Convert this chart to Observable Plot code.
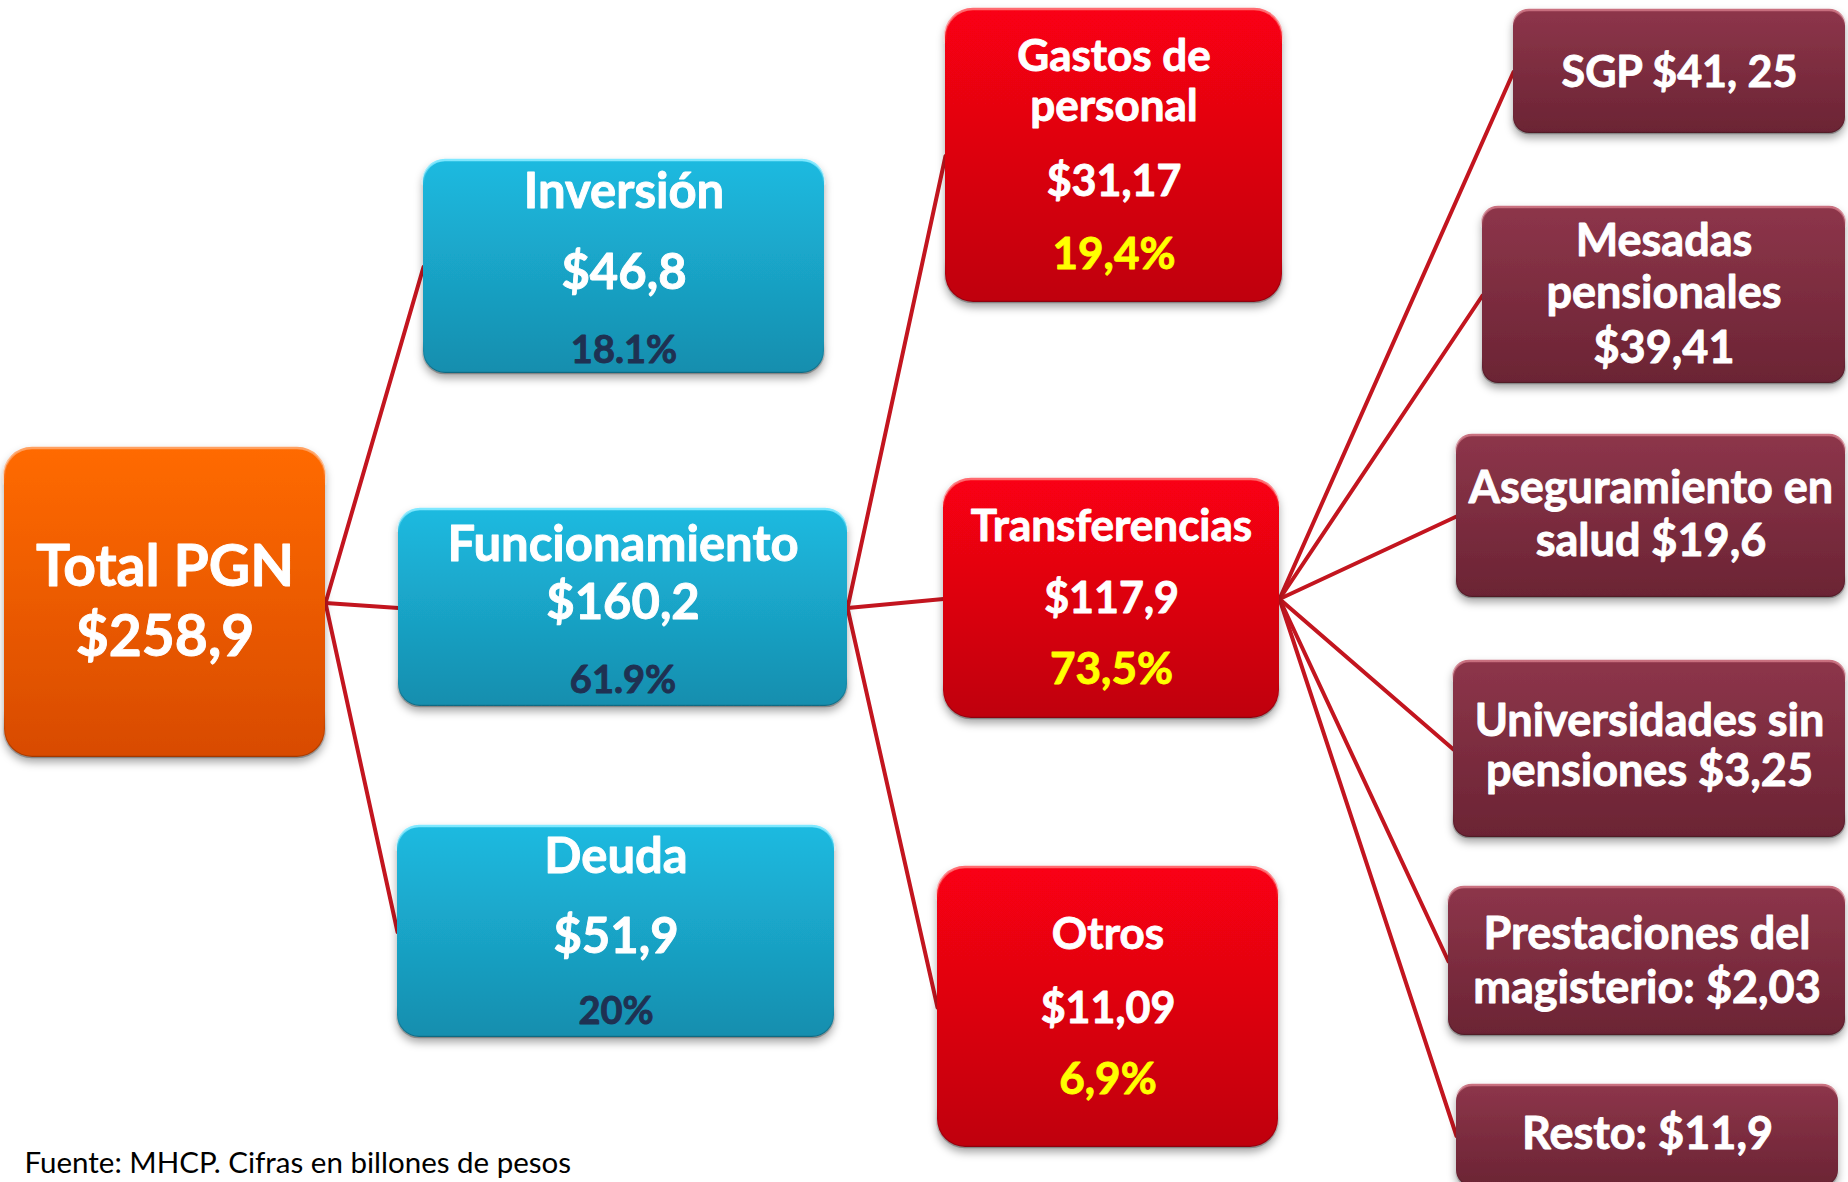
<!DOCTYPE html>
<html>
<head>
<meta charset="utf-8">
<script src="https://cdn.jsdelivr.net/npm/d3@7"></script>
<script src="https://cdn.jsdelivr.net/npm/@observablehq/plot@0.6"></script>
<style>
  html, body { margin: 0; padding: 0; background: #ffffff; }
  #chart svg { display: block; }
</style>
</head>
<body>
<div id="chart"></div>
<script>
// ---------------- DATA ----------------
const nodeNames = [
  "Total PGN", "Inversión", "Funcionamiento", "Deuda",
  "Gastos de personal", "Transferencias", "Otros",
  "SGP", "Mesadas pensionales", "Aseguramiento en salud",
  "Universidades sin pensiones", "Prestaciones del magisterio", "Resto"
];
const nodeParents = [
  null, "Total PGN", "Total PGN", "Total PGN",
  "Funcionamiento", "Funcionamiento", "Funcionamiento",
  "Transferencias", "Transferencias", "Transferencias",
  "Transferencias", "Transferencias", "Transferencias"
];
// amounts (billones de pesos) as printed
const amountLabels = [
  "$258,9", "$46,8", "$160,2", "$51,9",
  "$31,17", "$117,9", "$11,09",
  "$41, 25", "$39,41", "$19,6", "$3,25", "$2,03", "$11,9"
];
// shares as printed
const shareLabels = [
  null, "18.1%", "61.9%", "20%",
  "19,4%", "73,5%", "6,9%",
  null, null, null, null, null, null
];
// title lines as printed in each box
const titleLines = [
  ["Total PGN"], ["Inversión"], ["Funcionamiento"], ["Deuda"],
  ["Gastos de", "personal"], ["Transferencias"], ["Otros"],
  ["SGP"], ["Mesadas", "pensionales"], ["Aseguramiento en", "salud"],
  ["Universidades sin", "pensiones"], ["Prestaciones del", "magisterio:"], ["Resto:"]
];
const sourceNote = "Fuente: MHCP. Cifras en billones de pesos";

// ---------------- LAYOUT (positions / styles) ----------------
const W = 1848, H = 1182;
// box extents [x1, x2, y1, y2]
const boxLayout = [
  [4, 325, 448, 757],
  [423, 824, 160, 373],
  [398, 847, 509, 706],
  [397, 834, 826, 1037],
  [945, 1282, 9, 302],
  [943, 1279, 479, 718],
  [937, 1278, 867, 1147],
  [1513, 1845, 10, 133],
  [1482, 1845, 207, 383],
  [1456, 1845, 435, 597],
  [1453, 1845, 661, 837],
  [1448, 1845, 887, 1035],
  [1456, 1838, 1085, 1186]
];
// amount placement: "line" = own line, "append" = appended to last title line
const amountMode = ["line","line","line","line","line","line","line","append","line","append","append","append","append"];
// baselines of each printed line, top to bottom
const baselines = [
  [585, 655],
  [207, 288, 362],
  [560, 618, 692],
  [872, 952, 1023],
  [70, 120, 195, 268],
  [540, 612, 683],
  [948, 1022, 1093],
  [86],
  [255, 307, 362],
  [502, 555],
  [735, 785],
  [948, 1002],
  [1148]
];
const tier = ["root","l1","l1","l1","l2","l2","l2","l3","l3","l3","l3","l3","l3"];
const tierStyle = {
  root: {top: "#ff6a02", bottom: "#d84b06", edge: "#ffa060", rx: 28, title: 57, value: 57, share: 40, shareColor: "#ffffff"},
  l1:   {top: "#1dbae0", bottom: "#168eae", edge: "#7fe8ff", rx: 22, title: 49, value: 49, share: 38, shareColor: "#1f3152"},
  l2:   {top: "#fa0412", bottom: "#bf000f", edge: "#ff6a70", rx: 28, title: 44, value: 43, share: 44, shareColor: "#ffff00"},
  l3:   {top: "#8d354a", bottom: "#6b2434", edge: "#c9707f", rx: 16, title: 45, value: 45, share: 45, shareColor: "#ffffff"}
};

// ---------------- BUILD TABLES ----------------
const boxes = nodeNames.map((name, i) => {
  const [x1, x2, y1, y2] = boxLayout[i];
  return {name, tier: tier[i], x1, x2, y1, y2, cx: (x1 + x2) / 2, cy: (y1 + y2) / 2};
});
const byName = new Map(boxes.map(b => [b.name, b]));
const links = nodeNames.map((name, i) => {
  if (!nodeParents[i]) return null;
  const p = byName.get(nodeParents[i]), c = byName.get(name);
  return {x1: p.x2, y1: p.cy, x2: c.x1, y2: c.cy};
}).filter(Boolean);

const textRows = [];
nodeNames.forEach((name, i) => {
  const st = tierStyle[tier[i]];
  const lines = titleLines[i].map(t => ({text: t, kind: "title"}));
  if (amountMode[i] === "append") lines[lines.length - 1].text += " " + amountLabels[i];
  else lines.push({text: amountLabels[i], kind: "value"});
  if (shareLabels[i]) lines.push({text: shareLabels[i], kind: "share"});
  // single-line SGP box is a bit tighter
  lines.forEach((l, j) => {
    let size = st[l.kind];
    if (name === "SGP") size = 43;
    textRows.push({
      text: l.text,
      x: boxes[i].cx,
      y: baselines[i][j],
      size,
      color: l.kind === "share" ? st.shareColor : "#ffffff"
    });
  });
});

const tiers = ["root", "l1", "l2", "l3"];

const chart = Plot.plot({
  width: W,
  height: H,
  margin: 0,
  style: {fontFamily: "Lato, 'Open Sans', sans-serif", background: "#ffffff"},
  x: {domain: [0, W], range: [0, W], axis: null},
  y: {domain: [0, H], range: [0, H], axis: null},
  color: {type: "identity"},
  marks: [
    Plot.link(links, {x1: "x1", y1: "y1", x2: "x2", y2: "y2", stroke: "#c3151f", strokeWidth: 4, strokeLinecap: "round"}),
    ...tiers.map(t => Plot.rect(boxes.filter(b => b.tier === t), {
      x1: "x1", x2: "x2", y1: "y1", y2: "y2",
      rx: tierStyle[t].rx, fill: `url(#grad-${t})`,
      stroke: `url(#edge-${t})`, strokeWidth: 2.5
    })),
    Plot.text(textRows, {
      x: "x", y: "y", text: "text", fontSize: "size", fill: "color", stroke: "color", strokeWidth: 0.9,
      fontWeight: "bold", lineAnchor: "bottom", textAnchor: "middle"
    }),
    Plot.text([sourceNote], {
      x: () => 24, y: () => 1172, text: d => d, textAnchor: "start", lineAnchor: "bottom",
      fontSize: 29.5, fill: "#000000"
    })
  ]
});

// gradients and shadow
const svg = d3.select(chart);
const defs = svg.insert("defs", ":first-child");
tiers.forEach(t => {
  const st = tierStyle[t];
  const g = defs.append("linearGradient").attr("id", `grad-${t}`).attr("x1", 0).attr("y1", 0).attr("x2", 0).attr("y2", 1);
  g.append("stop").attr("offset", "0%").attr("stop-color", st.top);
  g.append("stop").attr("offset", "100%").attr("stop-color", st.bottom);
  const e = defs.append("linearGradient").attr("id", `edge-${t}`).attr("x1", 0).attr("y1", 0).attr("x2", 0).attr("y2", 1);
  e.append("stop").attr("offset", "0%").attr("stop-color", st.edge).attr("stop-opacity", 1);
  e.append("stop").attr("offset", "12%").attr("stop-color", st.edge).attr("stop-opacity", 0.0);
  e.append("stop").attr("offset", "85%").attr("stop-color", "#000").attr("stop-opacity", 0.0);
  e.append("stop").attr("offset", "100%").attr("stop-color", "#000").attr("stop-opacity", 0.25);
});
const f = defs.append("filter").attr("id", "shadow").attr("x", "-10%").attr("y", "-10%").attr("width", "130%").attr("height", "140%");
f.append("feDropShadow").attr("dx", 0).attr("dy", 5).attr("stdDeviation", 4).attr("flood-color", "#000").attr("flood-opacity", 0.35);
svg.selectAll('g[aria-label="rect"]').attr("filter", "url(#shadow)");

document.getElementById("chart").appendChild(chart);
</script>
</body>
</html>
